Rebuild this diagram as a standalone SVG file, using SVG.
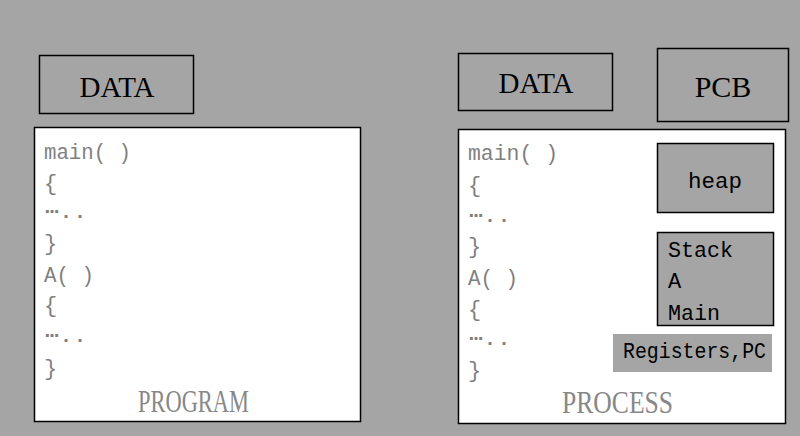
<svg xmlns="http://www.w3.org/2000/svg" width="800" height="436" viewBox="0 0 800 436">
<style>
.box{fill:#a5a5a5;stroke:#000;stroke-width:1.5}
.panel{fill:#fff;stroke:#000;stroke-width:1.5}
.title{font-family:"Liberation Serif",serif;fill:#000}
.code{font-family:"Liberation Mono",monospace;font-size:22px;fill:#808080}
.dots{font-family:"DejaVu Sans Mono",monospace;font-size:20px;fill:#808080}
.mono{font-family:"Liberation Mono",monospace;font-size:22px;fill:#000}
.cap{font-family:"Liberation Serif",serif;font-size:31px;fill:#878787}
</style>
<rect x="0" y="0" width="800" height="436" fill="#a5a5a5"/>
<g id="program-data">
<rect class="box" x="39.5" y="55.5" width="154" height="58"/>
<text class="title" x="117" y="97" font-size="29" text-anchor="middle">DATA</text>
</g>
<g id="program">
<rect class="panel" x="34.5" y="127.5" width="326" height="294"/>
<text class="code" x="44" y="159" textLength="87" lengthAdjust="spacingAndGlyphs">main( )</text>
<text class="code" x="44" y="190">{</text>
<text class="dots" x="45" y="218" textLength="42" lengthAdjust="spacingAndGlyphs">⋯..</text>
<text class="code" x="44" y="250">}</text>
<text class="code" x="44" y="282" textLength="50" lengthAdjust="spacingAndGlyphs">A( )</text>
<text class="code" x="44" y="312">{</text>
<text class="dots" x="45" y="342" textLength="42" lengthAdjust="spacingAndGlyphs">⋯..</text>
<text class="code" x="44" y="375">}</text>
<text class="cap" x="138" y="412" textLength="111" lengthAdjust="spacingAndGlyphs">PROGRAM</text>
</g>
<g id="process-data">
<rect class="box" x="458.5" y="53.5" width="154" height="57"/>
<text class="title" x="536" y="93" font-size="29" text-anchor="middle">DATA</text>
</g>
<g id="pcb">
<rect class="box" x="657.5" y="48.5" width="131" height="73"/>
<text class="title" x="723" y="97" font-size="30" text-anchor="middle">PCB</text>
</g>
<g id="process">
<rect class="panel" x="458.5" y="129.5" width="327" height="294"/>
<text class="code" x="468" y="160" textLength="90" lengthAdjust="spacingAndGlyphs">main( )</text>
<text class="code" x="468" y="192">{</text>
<text class="dots" x="469" y="222" textLength="42" lengthAdjust="spacingAndGlyphs">⋯..</text>
<text class="code" x="468" y="253">}</text>
<text class="code" x="468" y="285" textLength="50" lengthAdjust="spacingAndGlyphs">A( )</text>
<text class="code" x="468" y="316">{</text>
<text class="dots" x="469" y="345" textLength="42" lengthAdjust="spacingAndGlyphs">⋯..</text>
<text class="code" x="468" y="377">}</text>
<text class="cap" x="562" y="413" textLength="111" lengthAdjust="spacingAndGlyphs">PROCESS</text>
</g>
<g id="heap">
<rect class="box" x="657.5" y="143.5" width="116" height="69"/>
<text class="mono" x="688" y="188" textLength="54" lengthAdjust="spacingAndGlyphs">heap</text>
</g>
<g id="stack">
<rect class="box" x="657.5" y="232.5" width="116" height="93"/>
<text class="mono" x="668" y="257" textLength="65" lengthAdjust="spacingAndGlyphs">Stack</text>
<text class="mono" x="668" y="288">A</text>
<text class="mono" x="668" y="320" textLength="52" lengthAdjust="spacingAndGlyphs">Main</text>
</g>
<g id="registers">
<rect x="613" y="334" width="159" height="38" fill="#a5a5a5"/>
<text class="mono" x="623" y="358" font-size="20" textLength="143" lengthAdjust="spacingAndGlyphs">Registers,PC</text>
</g>
<g id="connectors"></g>
</svg>
